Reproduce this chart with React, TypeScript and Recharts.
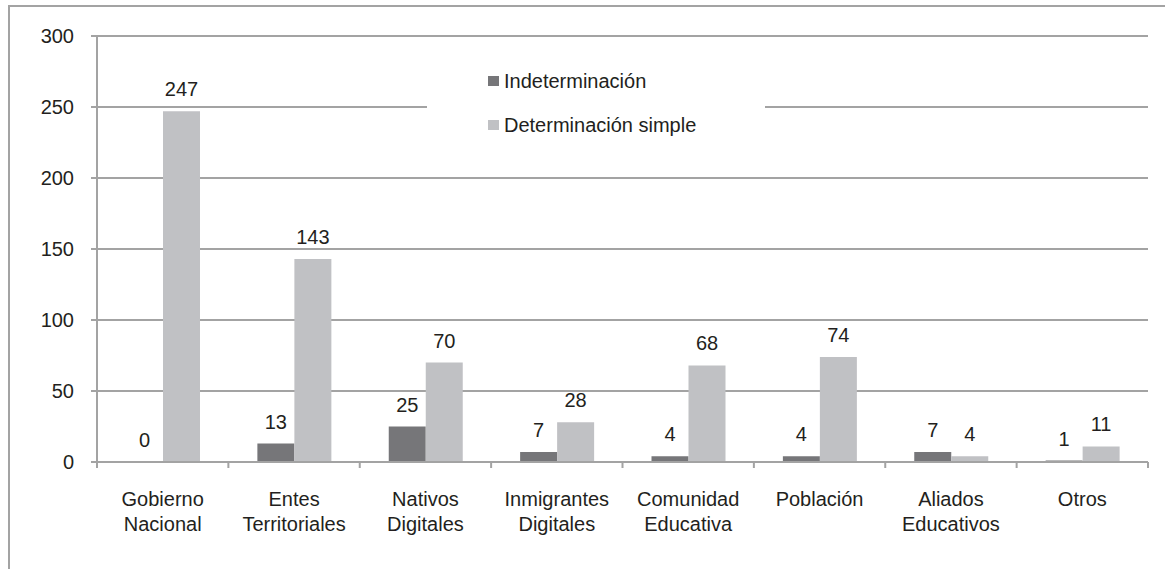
import React from "react";
import { BarChart, Bar, XAxis, YAxis, CartesianGrid, Legend, LabelList } from "recharts";

const categories = [
  "Gobierno\nNacional",
  "Entes\nTerritoriales",
  "Nativos\nDigitales",
  "Inmigrantes\nDigitales",
  "Comunidad\nEducativa",
  "Población",
  "Aliados\nEducativos",
  "Otros",
];
const indeterminacion = [0, 13, 25, 7, 4, 4, 7, 1];
const determinacionSimple = [247, 143, 70, 28, 68, 74, 4, 11];
const yTicks = [0, 50, 100, 150, 200, 250, 300];
const seriesNames = ["Indeterminación", "Determinación simple"];

const data = categories.map((c, i) => ({
  name: c,
  ind: indeterminacion[i],
  det: determinacionSimple[i],
}));

const FONT = "'Liberation Sans', Arial, sans-serif";
const GRID = "#a3a3a3";
const DARK = "#767679";
const LIGHT = "#c0c1c4";
const TEXT = "#231f20";

const W = 1165;
const H = 569;
const M = { top: 36, right: 17, left: 0, bottom: 37 };
const Y_W = 97;
const X_H = 70;
const BAND = (W - M.right - Y_W) / categories.length;

const CatTick = (props: any) => {
  const { x, y, payload, index } = props;
  const half = payload && typeof payload.offset === "number" && payload.offset > 0 ? payload.offset : BAND / 2;
  const lines = String(payload.value).split("\n");
  return (
    <g>
      <line x1={x - half} x2={x - half} y1={y} y2={y + 6} stroke={GRID} strokeWidth={2} />
      {index === categories.length - 1 && (
        <line x1={x + half} x2={x + half} y1={y} y2={y + 6} stroke={GRID} strokeWidth={2} />
      )}
      <text x={x} y={y + 44} textAnchor="middle" fill={TEXT} fontSize={20} fontFamily={FONT}>
        {lines.map((l, i) => (
          <tspan key={i} x={x} dy={i === 0 ? 0 : 25}>
            {l}
          </tspan>
        ))}
      </text>
    </g>
  );
};

const LegendContent = () => {
  const colors = [DARK, LIGHT];
  return (
    <div style={{ width: "100%", height: "100%", background: "#fff", position: "relative" }}>
      {seriesNames.map((n, i) => (
        <div
          key={n}
          style={{
            position: "absolute",
            left: 61,
            top: 7 + i * 44,
            display: "flex",
            alignItems: "center",
            fontFamily: FONT,
            fontSize: 20,
            color: TEXT,
            lineHeight: "24px",
            whiteSpace: "nowrap",
          }}
        >
          <span style={{ display: "inline-block", width: 11, height: 10, background: colors[i], marginRight: 5 }} />
          <span>{n}</span>
        </div>
      ))}
    </div>
  );
};

export default function App() {
  return (
    <div style={{ position: "absolute", left: 0, top: 0, width: W, height: H, background: "#fff", overflow: "hidden" }}>
      <div
        style={{
          position: "absolute",
          left: 8,
          top: 5,
          width: W + 20,
          height: H + 20,
          borderLeft: `2.5px solid ${GRID}`,
          borderTop: `2.5px solid ${GRID}`,
          boxSizing: "border-box",
        }}
      />
      <div style={{ position: "absolute", left: 0, top: 0 }}>
        <BarChart width={W} height={H} data={data} margin={M} barGap={0} barSize={37}>
          <CartesianGrid vertical={false} stroke={GRID} strokeWidth={2} />
          <XAxis
            dataKey="name"
            height={X_H}
            interval={0}
            axisLine={{ stroke: GRID, strokeWidth: 2 }}
            tickLine={false}
            tickSize={0}
            tickMargin={0}
            tick={<CatTick />}
          />
          <YAxis
            width={Y_W}
            domain={[0, 300]}
            ticks={yTicks}
            interval={0}
            axisLine={{ stroke: GRID, strokeWidth: 2 }}
            tickLine={{ stroke: GRID, strokeWidth: 2 }}
            tickSize={6}
            tickMargin={17}
            tick={{ fill: TEXT, fontSize: 20, fontFamily: FONT }}
          />
          <Legend
            layout="horizontal"
            verticalAlign="middle"
            align="center"
            content={<LegendContent />}
            wrapperStyle={{ left: 427, top: 62, width: 338, height: 88 }}
          />
          <Bar
            dataKey="ind"
            name={seriesNames[0]}
            fill={DARK}
            isAnimationActive={false}
            minPointSize={(v: any) => (v === 0 ? 0.01 : 0)}
          >
            <LabelList dataKey="ind" position="top" offset={15} fill={TEXT} fontSize={20} fontFamily={FONT} />
          </Bar>
          <Bar dataKey="det" name={seriesNames[1]} fill={LIGHT} isAnimationActive={false}>
            <LabelList dataKey="det" position="top" offset={15} fill={TEXT} fontSize={20} fontFamily={FONT} />
          </Bar>
        </BarChart>
      </div>
    </div>
  );
}
